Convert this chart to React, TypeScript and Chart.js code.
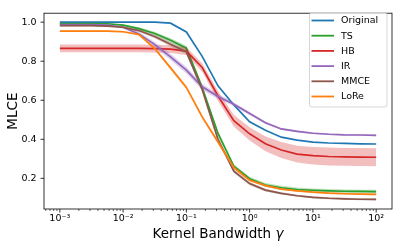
import React, { useEffect, useRef } from 'react';
import { Chart, registerables } from 'chart.js';

Chart.register(...registerables);

// Kernel bandwidth values (x)
const gammas = [0.001, 0.001778, 0.003162, 0.005623, 0.01, 0.01778, 0.03162, 0.05623, 0.1, 0.1778, 0.3162, 0.5623, 1, 1.778, 3.162, 5.623, 10, 17.78, 31.62, 56.23, 100];

const seriesNames = ['Original', 'TS', 'HB', 'IR', 'MMCE', 'LoRe'];
const seriesColors = ['#1f77b4', '#2ca02c', '#d62728', '#9467bd', '#8c564b', '#ff7f0e'];
const bandColors = ['', 'rgba(44,160,44,0.3)', 'rgba(214,39,40,0.3)', 'rgba(148,103,189,0.3)', 'rgba(140,86,75,0.3)', 'rgba(255,127,14,0.3)'];

const original = [1.0, 1.0, 1.0, 1.0, 1.0, 1.0, 1.0, 0.995, 0.95, 0.825, 0.674, 0.576, 0.49, 0.446, 0.411, 0.396, 0.386, 0.381, 0.379, 0.377, 0.376];

const ts = [0.993, 0.993, 0.993, 0.992, 0.985, 0.967, 0.942, 0.907, 0.867, 0.665, 0.43, 0.262, 0.198, 0.166, 0.152, 0.143, 0.139, 0.136, 0.134, 0.133, 0.132];
const tsStd = [0.003, 0.003, 0.003, 0.004, 0.005, 0.007, 0.009, 0.011, 0.012, 0.014, 0.012, 0.01, 0.01, 0.01, 0.01, 0.01, 0.009, 0.009, 0.009, 0.009, 0.009];

const hb = [0.866, 0.866, 0.866, 0.866, 0.866, 0.866, 0.865, 0.862, 0.852, 0.768, 0.622, 0.495, 0.428, 0.377, 0.345, 0.324, 0.316, 0.312, 0.31, 0.309, 0.308];
const hbStd = [0.02, 0.02, 0.02, 0.02, 0.02, 0.02, 0.02, 0.02, 0.02, 0.022, 0.026, 0.03, 0.034, 0.038, 0.041, 0.043, 0.045, 0.046, 0.046, 0.046, 0.046];

const ir = [0.988, 0.988, 0.987, 0.985, 0.974, 0.94, 0.885, 0.822, 0.754, 0.669, 0.619, 0.58, 0.532, 0.485, 0.453, 0.441, 0.431, 0.426, 0.423, 0.422, 0.42];
const irStd = [0.003, 0.003, 0.003, 0.004, 0.006, 0.01, 0.014, 0.016, 0.017, 0.016, 0.013, 0.01, 0.008, 0.006, 0.005, 0.005, 0.004, 0.004, 0.004, 0.004, 0.004];

const mmce = [0.982, 0.982, 0.982, 0.98, 0.974, 0.957, 0.927, 0.887, 0.848, 0.655, 0.4, 0.237, 0.173, 0.14, 0.123, 0.111, 0.103, 0.098, 0.095, 0.093, 0.092];
const mmceStd = [0.004, 0.004, 0.004, 0.004, 0.005, 0.007, 0.009, 0.011, 0.012, 0.013, 0.012, 0.01, 0.008, 0.007, 0.006, 0.005, 0.005, 0.005, 0.005, 0.005, 0.005];

const lore = [0.954, 0.954, 0.954, 0.954, 0.951, 0.937, 0.865, 0.766, 0.666, 0.515, 0.386, 0.255, 0.19, 0.163, 0.145, 0.136, 0.129, 0.124, 0.121, 0.119, 0.118];
const loreStd = [0.004, 0.004, 0.004, 0.004, 0.004, 0.006, 0.008, 0.01, 0.01, 0.01, 0.01, 0.008, 0.006, 0.005, 0.004, 0.004, 0.004, 0.004, 0.004, 0.004, 0.004];

const seriesValues = [original, ts, hb, ir, mmce, lore];
const seriesStds: (number[] | null)[] = [null, tsStd, hbStd, irStd, mmceStd, loreStd];

const xTickValues = [0.001, 0.01, 0.1, 1, 10, 100];
const xTickLabels = ['10⁻³', '10⁻²', '10⁻¹', '10⁰', '10¹', '10²'];
const xMinorDecades = [0.0001, 0.001, 0.01, 0.1, 1, 10, 100];
const xMinorMultipliers = [2, 3, 4, 5, 6, 7, 8, 9];
const yTickValues = [0.2, 0.4, 0.6, 0.8, 1.0];
const yTickLabels = ['0.2', '0.4', '0.6', '0.8', '1.0'];

const xLabel = 'Kernel Bandwidth ';
const xLabelSymbol = 'γ';
const yLabel = 'MLCE';

const FONT = 'DejaVu Sans';

const decorPlugin = {
  id: 'decor',
  afterDraw(chart: any) {
    const { ctx, chartArea: a, scales } = chart;
    const xs = scales.x;
    const ys = scales.y;
    ctx.save();
    ctx.strokeStyle = '#000';
    // minor x ticks
    ctx.lineWidth = 0.6;
    for (const d of xMinorDecades) {
      for (const m of xMinorMultipliers) {
        const v = d * m;
        if (v < xs.min || v > xs.max) continue;
        const px = xs.getPixelForValue(v);
        ctx.beginPath();
        ctx.moveTo(px, a.bottom);
        ctx.lineTo(px, a.bottom + 2);
        ctx.stroke();
      }
    }
    // major ticks
    ctx.lineWidth = 0.8;
    for (const v of xTickValues) {
      const px = xs.getPixelForValue(v);
      ctx.beginPath();
      ctx.moveTo(px, a.bottom);
      ctx.lineTo(px, a.bottom + 3.5);
      ctx.stroke();
    }
    for (const v of yTickValues) {
      const py = ys.getPixelForValue(v);
      ctx.beginPath();
      ctx.moveTo(a.left, py);
      ctx.lineTo(a.left - 3.5, py);
      ctx.stroke();
    }
    // spines
    ctx.lineWidth = 0.8;
    ctx.strokeRect(a.left, a.top, a.right - a.left, a.bottom - a.top);

    // axis titles
    ctx.fillStyle = '#000';
    ctx.textBaseline = 'alphabetic';
    ctx.font = `13.5px ${FONT}`;
    const w1 = ctx.measureText(xLabel).width;
    ctx.font = `italic 13.5px ${FONT}`;
    const w2 = ctx.measureText(xLabelSymbol).width;
    const cx = (a.left + a.right) / 2;
    const sx = cx - (w1 + w2) / 2;
    ctx.font = `13.5px ${FONT}`;
    ctx.textAlign = 'left';
    ctx.fillText(xLabel, sx, 237.5);
    ctx.font = `italic 13.5px ${FONT}`;
    ctx.fillText(xLabelSymbol, sx + w1, 237.5);

    ctx.save();
    ctx.translate(17, (a.top + a.bottom) / 2);
    ctx.rotate(-Math.PI / 2);
    ctx.font = `13.5px ${FONT}`;
    ctx.textAlign = 'center';
    ctx.fillText(yLabel, 0, 0);
    ctx.restore();

    // legend
    const lx = 309, ly = 12.5, lw = 77.5, lh = 94;
    ctx.beginPath();
    (ctx as any).roundRect(lx + 0.5, ly + 0.5, lw, lh, 2);
    ctx.fillStyle = 'rgba(255,255,255,0.8)';
    ctx.fill();
    ctx.strokeStyle = '#cccccc';
    ctx.lineWidth = 0.8;
    ctx.stroke();
    ctx.font = `9.5px ${FONT}`;
    ctx.textAlign = 'left';
    ctx.textBaseline = 'middle';
    seriesNames.forEach((name, i) => {
      const y = 20.5 + i * 15.2;
      ctx.strokeStyle = seriesColors[i];
      ctx.lineWidth = 1.8;
      ctx.beginPath();
      ctx.moveTo(311.5, y);
      ctx.lineTo(334, y);
      ctx.stroke();
      ctx.fillStyle = '#000';
      ctx.fillText(name, 341, y + 0.5);
    });
    ctx.restore();
  },
};

export default function App() {
  const ref = useRef<HTMLCanvasElement>(null);
  useEffect(() => {
    document.body.style.margin = '0';
    const datasets: any[] = [];
    let idx = 0;
    seriesNames.forEach((name, i) => {
      const vals = seriesValues[i];
      const std = seriesStds[i];
      if (std) {
        datasets.push({
          label: name + ' lower',
          data: gammas.map((g, j) => ({ x: g, y: vals[j] - std[j] })),
          borderWidth: 0,
          borderColor: 'rgba(0,0,0,0)',
          pointRadius: 0,
          fill: false,
          order: -idx++,
        });
        datasets.push({
          label: name + ' upper',
          data: gammas.map((g, j) => ({ x: g, y: vals[j] + std[j] })),
          borderWidth: 0,
          borderColor: 'rgba(0,0,0,0)',
          backgroundColor: bandColors[i],
          pointRadius: 0,
          fill: '-1',
          order: -idx++,
        });
      }
      datasets.push({
        label: name,
        data: gammas.map((g, j) => ({ x: g, y: vals[j] })),
        borderColor: seriesColors[i],
        backgroundColor: seriesColors[i],
        borderWidth: 1.7,
        pointRadius: 0,
        fill: false,
        tension: 0,
        order: -idx++,
      });
    });

    const chart = new Chart(ref.current!, {
      type: 'line',
      data: { datasets },
      options: {
        responsive: false,
        animation: false,
        devicePixelRatio: 1,
        layout: { padding: { left: 0, right: 7, top: 7, bottom: 0 } },
        plugins: { legend: { display: false }, tooltip: { enabled: false } },
        scales: {
          x: {
            type: 'logarithmic',
            min: Math.pow(10, -3.25),
            max: Math.pow(10, 2.25),
            afterBuildTicks: (s: any) => {
              s.ticks = xTickValues.map((v) => ({ value: v, major: true }));
            },
            afterFit: (s: any) => {
              s.height = 40;
            },
            grid: { display: false, drawTicks: false },
            border: { display: false },
            ticks: {
              autoSkip: false,
              maxRotation: 0,
              minRotation: 0,
              padding: 4,
              color: '#000',
              font: { family: FONT, size: 9.5 },
              callback: (v: any) => {
                const k = xTickValues.indexOf(Number(v));
                return k >= 0 ? xTickLabels[k] : '';
              },
            },
          },
          y: {
            type: 'linear',
            min: 0.043,
            max: 1.046,
            afterBuildTicks: (s: any) => {
              s.ticks = yTickValues.map((v) => ({ value: v }));
            },
            afterFit: (s: any) => {
              s.width = 44;
            },
            grid: { display: false, drawTicks: false },
            border: { display: false },
            ticks: {
              autoSkip: false,
              padding: 7.5,
              color: '#000',
              font: { family: FONT, size: 9.5 },
              callback: (v: any) => {
                const k = yTickValues.findIndex((t) => Math.abs(t - Number(v)) < 1e-9);
                return k >= 0 ? yTickLabels[k] : '';
              },
            },
          },
        },
      },
      plugins: [decorPlugin],
    });
    return () => chart.destroy();
  }, []);

  return (
    <div style={{ position: 'absolute', left: 0, top: 0, width: 399, height: 249 }}>
      <canvas ref={ref} width={399} height={249} style={{ width: 399, height: 249 }} />
    </div>
  );
}
